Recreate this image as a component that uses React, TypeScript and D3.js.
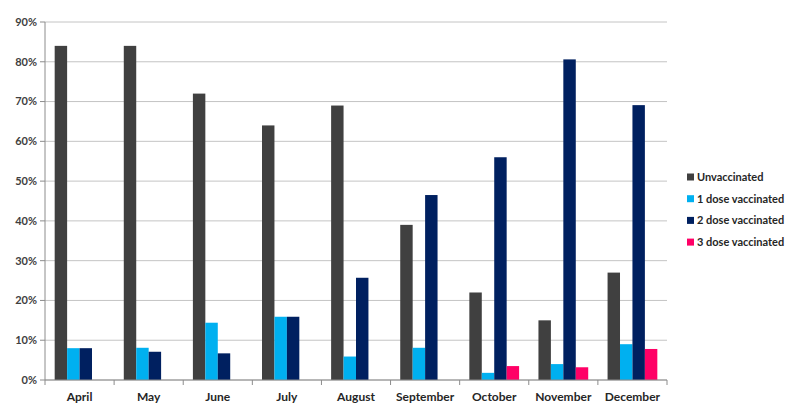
import * as d3 from "d3";

const months = ["April", "May", "June", "July", "August", "September", "October", "November", "December"];
const seriesNames = ["Unvaccinated", "1 dose vaccinated", "2 dose vaccinated", "3 dose vaccinated"];
const seriesColors = ["#404040", "#00b0f0", "#002060", "#ff0066"];

// percent values per month (null = no bar)
const unvaccinated = [84, 84, 72, 64, 69, 39, 22, 15, 27];
const oneDose = [8, 8.1, 14.4, 15.9, 5.9, 8.1, 1.8, 4, 9];
const twoDose = [8, 7.1, 6.7, 15.9, 25.7, 46.5, 56, 80.6, 69.1];
const threeDose = [null, null, null, null, null, null, 3.5, 3.2, 7.8];

const yTicks = [0, 10, 20, 30, 40, 50, 60, 70, 80, 90];

const W = 796;
const H = 415;
const font = "Lato, 'Open Sans', sans-serif";

export default function App() {
  const left = 45;
  const right = 667;
  const top = 22;
  const bottom = 380;

  const x0 = d3.scaleBand().domain(months).range([left, right]).paddingInner(0).paddingOuter(0);
  const x1 = d3
    .scaleBand()
    .domain(seriesNames)
    .range([x0.bandwidth() * 0.14, x0.bandwidth() * 0.86])
    .padding(0);
  const y = d3.scaleLinear().domain([0, 90]).range([bottom, top]);

  const all = [unvaccinated, oneDose, twoDose, threeDose];

  return (
    <svg width={W} height={H} style={{ display: "block", margin: "-8px", background: "#fff" }}>
      {/* gridlines */}
      {yTicks.map((t) => (
        <line key={"g" + t} x1={left} x2={right} y1={y(t)} y2={y(t)} stroke="#c4c4c4" strokeWidth={1} />
      ))}
      {/* y axis */}
      <line x1={left} x2={left} y1={top} y2={bottom} stroke="#8c8c8c" />
      {yTicks.map((t) => (
        <g key={"t" + t}>
          <line x1={left - 5} x2={left} y1={y(t)} y2={y(t)} stroke="#8c8c8c" />
          <text
            x={37}
            y={y(t)}
            dy="0.35em"
            textAnchor="end"
            fontFamily={font}
            fontWeight="bold"
            fontSize={11}
            fill="#404040"
          >
            {t}%
          </text>
        </g>
      ))}
      {/* bars */}
      {months.map((m, i) => (
        <g key={m} transform={`translate(${x0(m)},0)`}>
          {all.map((s, j) => {
            const v = s[i];
            if (v == null) return null;
            return (
              <rect
                key={j}
                x={x1(seriesNames[j])}
                y={y(v)}
                width={x1.bandwidth()}
                height={y(0) - y(v)}
                fill={seriesColors[j]}
              />
            );
          })}
        </g>
      ))}
      {/* x axis */}
      <line x1={left} x2={right} y1={bottom} y2={bottom} stroke="#8c8c8c" />
      {[...months.map((m) => x0(m) as number), right].map((px, i) => (
        <line key={"xt" + i} x1={px} x2={px} y1={bottom} y2={bottom + 5} stroke="#8c8c8c" />
      ))}
      {months.map((m) => (
        <text
          key={"l" + m}
          x={(x0(m) as number) + x0.bandwidth() / 2}
          y={397}
          dy="0.35em"
          textAnchor="middle"
          fontFamily={font}
          fontWeight="bold"
          fontSize={12}
          fill="#262626"
        >
          {m}
        </text>
      ))}
      {/* legend */}
      {seriesNames.map((n, j) => (
        <g key={n} transform={`translate(687,${177 + j * 21.7})`}>
          <rect x={0} y={-3.5} width={7} height={7} fill={seriesColors[j]} />
          <text x={10} y={0} dy="0.35em" fontFamily={font} fontWeight="bold" fontSize={11} fill="#262626">
            {n}
          </text>
        </g>
      ))}
    </svg>
  );
}
